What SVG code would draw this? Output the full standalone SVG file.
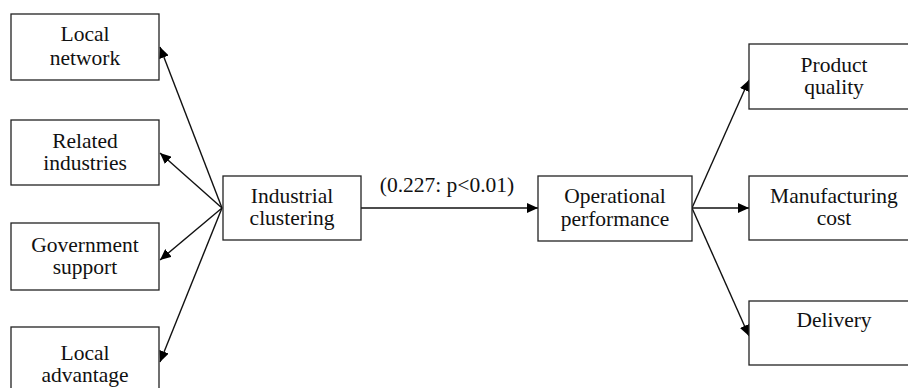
<svg xmlns="http://www.w3.org/2000/svg" width="908" height="388" viewBox="0 0 908 388">
<style>
.box{fill:#fff;stroke:#222;stroke-width:1.3}
.t{font-family:"Liberation Serif","Times New Roman","DejaVu Serif",serif;font-size:21.5px;fill:#111;text-anchor:middle}
.c{stroke:#111;stroke-width:1.4;fill:none;marker-end:url(#ah)}
</style>
<defs>
<marker id="ah" markerUnits="userSpaceOnUse" markerWidth="12" markerHeight="10" refX="11" refY="5" orient="auto">
<path d="M0,0 L11,5 L0,10 Z" fill="#000"/>
</marker>
</defs>
<rect width="908" height="388" fill="#fff"/>
<g id="connectors">
<line class="c" x1="222" y1="208" x2="160" y2="47"/>
<line class="c" x1="222" y1="208" x2="160" y2="153"/>
<line class="c" x1="222" y1="208" x2="160" y2="260"/>
<line class="c" x1="222" y1="208" x2="160" y2="362"/>
<line class="c" x1="361" y1="208" x2="538" y2="208"/>
<line class="c" x1="692" y1="208" x2="749" y2="80"/>
<line class="c" x1="692" y1="208" x2="749" y2="208"/>
<line class="c" x1="692" y1="208" x2="749" y2="336"/>
<text class="t" x="447" y="192">(0.227: p&lt;0.01)</text>
</g>
<g id="local-network">
<rect class="box" x="11" y="14" width="148" height="66"/>
<text class="t" x="85" y="41">Local</text>
<text class="t" x="85" y="65">network</text>
</g>
<g id="related-industries">
<rect class="box" x="11" y="120" width="148" height="65"/>
<text class="t" x="85" y="148">Related</text>
<text class="t" x="85" y="170">industries</text>
</g>
<g id="government-support">
<rect class="box" x="11" y="223" width="148" height="67"/>
<text class="t" x="85" y="252">Government</text>
<text class="t" x="85" y="274">support</text>
</g>
<g id="local-advantage">
<rect class="box" x="11" y="327" width="148" height="67"/>
<text class="t" x="85" y="360">Local</text>
<text class="t" x="85" y="382">advantage</text>
</g>
<g id="industrial-clustering">
<rect class="box" x="223" y="176" width="138" height="64"/>
<text class="t" x="292" y="203">Industrial</text>
<text class="t" x="292" y="225">clustering</text>
</g>
<g id="operational-performance">
<rect class="box" x="538" y="176" width="154" height="65"/>
<text class="t" x="615" y="203">Operational</text>
<text class="t" x="615" y="226">performance</text>
</g>
<g id="product-quality">
<rect class="box" x="749" y="44" width="170" height="65"/>
<text class="t" x="834" y="72">Product</text>
<text class="t" x="834" y="94">quality</text>
</g>
<g id="manufacturing-cost">
<rect class="box" x="749" y="176" width="170" height="64"/>
<text class="t" x="834" y="203">Manufacturing</text>
<text class="t" x="834" y="225">cost</text>
</g>
<g id="delivery">
<rect class="box" x="749" y="301" width="170" height="64"/>
<text class="t" x="834" y="327">Delivery</text>
</g>
</svg>
